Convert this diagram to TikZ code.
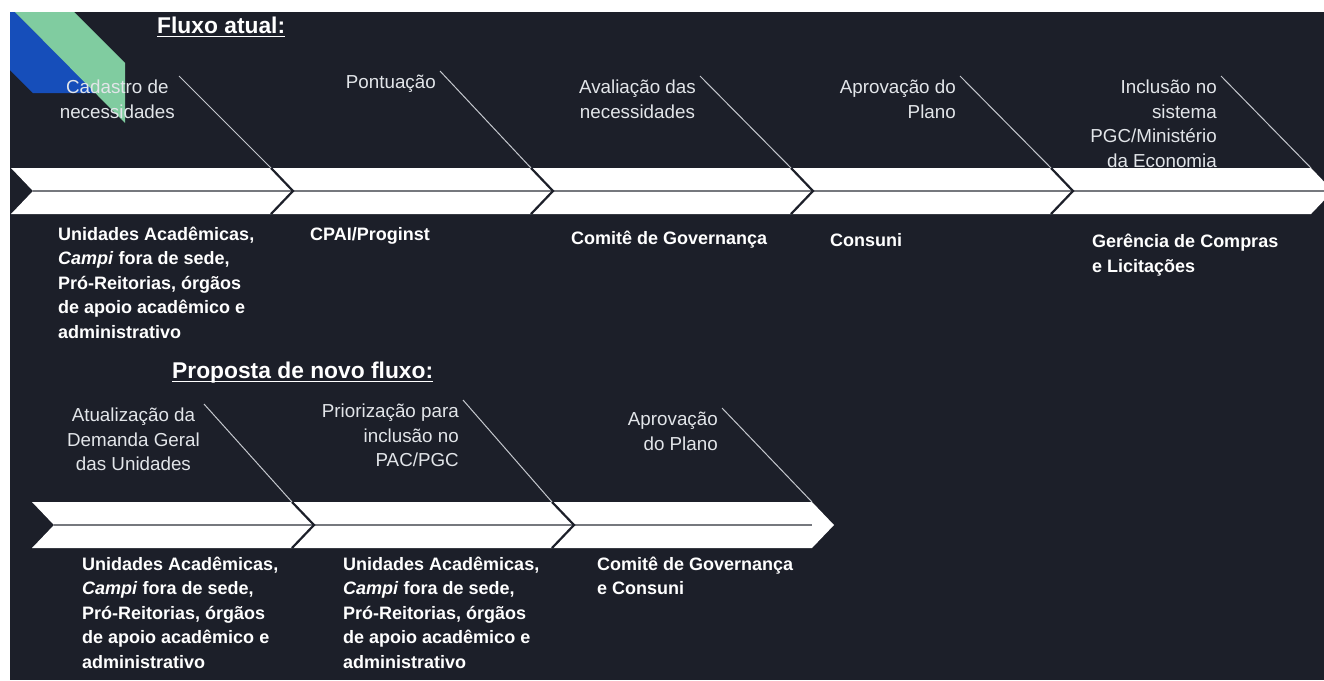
\documentclass[tikz,border=0pt]{standalone}
\usepackage{fontspec}
\setmainfont{Liberation Sans}
\usetikzlibrary{calc}
\definecolor{slidebg}{RGB}{28,31,41}
\definecolor{steptext}{RGB}{226,229,233}
\definecolor{leadline}{RGB}{196,199,205}
\definecolor{bandmid}{RGB}{118,120,126}
\definecolor{decoblue}{RGB}{22,78,186}
\definecolor{decogreen}{RGB}{128,204,160}

\begin{document}
\begin{tikzpicture}[x=1pt, y=-1pt,
  heading/.style={anchor=base west, inner sep=0pt, text=white, font=\fontsize{22.8}{28}\selectfont\bfseries},
  stage/.style={anchor=north east, inner sep=4pt, text=steptext, font=\fontsize{18.8}{24.5}\selectfont},
  owner/.style={anchor=base west, inner sep=0pt, align=left, text=white, font=\fontsize{18}{24.6}\selectfont\bfseries},
  lead/.style={draw=leadline, line width=1pt},
  gap/.style={draw=slidebg, line width=2.2pt}
]
  \clip (0,0) rectangle (1324,680);
  \fill[white] (0,0) rectangle (1324,680);
  \fill[slidebg] (10,12) rectangle (1324,680);

  % corner decoration
  \fill[decoblue] (10,12) -- (15,12) -- (96,93) -- (33,93) -- (10,70) -- cycle;
  \fill[decogreen] (15,12) -- (74,12) -- (125,63) -- (125,123) -- cycle;

  % current flow: band
  \foreach \t [count=\i] in {293,553,813,1073,1333} {
    \fill[white] (\t-282,168) -- (\t-22,168) -- (\t,191) -- (\t-22,214) -- (\t-282,214) -- (\t-260,191) -- cycle;
    \coordinate (a\i) at (\t-22,168);
  }
  \draw[bandmid, line width=1.5pt] (33,191) -- (1333,191);
  \foreach \t in {293,553,813,1073}
    \draw[gap] (\t-22,168) -- (\t,191) -- (\t-22,214);

  % proposed flow: band
  \foreach \t [count=\i] in {314,574,834} {
    \fill[white] (\t-282,502) -- (\t-22,502) -- (\t,525) -- (\t-22,548) -- (\t-282,548) -- (\t-260,525) -- cycle;
    \coordinate (b\i) at (\t-22,502);
  }
  \draw[bandmid, line width=1.5pt] (54,525) -- (812,525);
  \foreach \t in {314,574}
    \draw[gap] (\t-22,502) -- (\t,525) -- (\t-22,548);

  % titles
  \node[heading] (now) at (157,33) {Fluxo atual:};
  \draw[white, line width=1.8pt] ([yshift=-3.5pt]now.base west) -- ([yshift=-3.5pt]now.base east);
  \node[heading] (new) at (172,378) {Proposta de novo fluxo:};
  \draw[white, line width=1.8pt] ([yshift=-3.5pt]new.base west) -- ([yshift=-3.5pt]new.base east);

  % steps, current flow
  \node[stage, align=center] (s1) at (179,76) {Cadastro de\\necessidades};
  \node[stage] (s2) at (440,71) {Pontuação};
  \node[stage, align=center] (s3) at (700,76) {Avaliação das\\necessidades};
  \node[stage, align=right] (s4) at (960,76) {Aprovação do\\Plano};
  \node[stage, align=right] (s5) at (1221,76) {Inclusão no\\sistema\\PGC/Ministério\\da Economia};
  \foreach \i in {1,...,5}
    \draw[lead] (s\i.north east) -- (a\i);

  % owners: base is the last line
  \node[owner] (o1) at (58,338.4) {Unidades Acadêmicas,\\\textit{Campi} fora de sede,\\Pró-Reitorias, órgãos\\de apoio acadêmico e\\administrativo};
  \node[owner] (o2) at (310,240) {CPAI/Proginst};
  \node[owner] (o3) at (571,244.5) {Comitê de Governança};
  \node[owner] (o4) at (830,246.5) {Consuni};
  \node[owner] (o5) at (1092,272.1) {Gerência de Compras\\e Licitações};

  % steps, proposed flow
  \node[stage, align=center] (p1) at (204,404) {Atualização da\\Demanda Geral\\das Unidades};
  \node[stage, align=right] (p2) at (463,400) {Priorização para\\inclusão no\\PAC/PGC};
  \node[stage, align=right] (p3) at (722,408) {Aprovação\\do Plano};
  \foreach \i in {1,2,3}
    \draw[lead] (p\i.north east) -- (b\i);

  \node[owner] (q1) at (82,668.4) {Unidades Acadêmicas,\\\textit{Campi} fora de sede,\\Pró-Reitorias, órgãos\\de apoio acadêmico e\\administrativo};
  \node[owner] (q2) at (343,668.4) {Unidades Acadêmicas,\\\textit{Campi} fora de sede,\\Pró-Reitorias, órgãos\\de apoio acadêmico e\\administrativo};
  \node[owner] (q3) at (597,594.6) {Comitê de Governança\\e Consuni};
\end{tikzpicture}
\end{document}
